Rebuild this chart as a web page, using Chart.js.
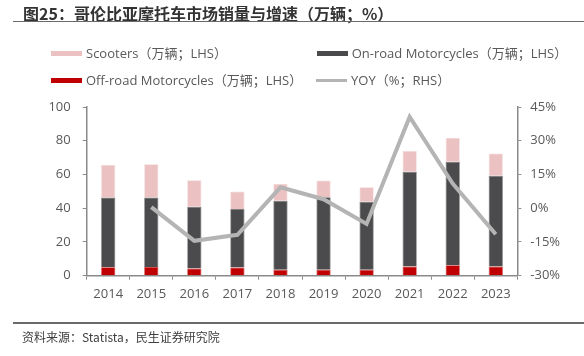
<!DOCTYPE html>
<html><head><meta charset="utf-8">
<script src="https://cdn.jsdelivr.net/npm/chart.js@4/dist/chart.umd.min.js"></script>
<style>
html,body{margin:0;padding:0;background:#fff;}
#wrap{position:relative;width:584px;height:356px;overflow:hidden;font-family:"Open Sans","Noto Sans CJK SC",sans-serif;}
#title{position:absolute;left:23px;top:1px;font-size:16px;font-weight:bold;color:#333;white-space:nowrap;font-family:"Noto Sans CJK SC","Open Sans",sans-serif;letter-spacing:0px;}
#tline{position:absolute;left:13px;top:21px;width:571px;height:0;border-top:1.5px solid #6a6a6a;}
#sline{position:absolute;left:13px;top:322px;width:571px;height:0;border-top:2px solid #6a6a6a;}
#source{position:absolute;left:22px;top:328px;font-size:12px;color:#404040;white-space:nowrap;font-family:"Noto Sans CJK SC","Open Sans",sans-serif;}
canvas{position:absolute;left:0;top:0;}
.lg{position:absolute;font-size:13px;color:#595959;white-space:nowrap;line-height:16px;}
.sw{position:absolute;}
</style></head>
<body><div id="wrap">
<canvas id="c" width="584" height="356"></canvas>
<div id="title">图25：哥伦比亚摩托车市场销量与增速（万辆；%）</div>
<div id="tline"></div>
<div id="legend"></div>
<div id="sline"></div>
<div id="source">资料来源：Statista，民生证券研究院</div>
</div>
<script>
const years = ['2014','2015','2016','2017','2018','2019','2020','2021','2022','2023'];
const offRoad = [5.0, 5.1, 4.2, 4.8, 3.6, 3.6, 3.6, 5.4, 6.2, 5.4];
const onRoad = [41.3, 41.2, 36.6, 34.8, 40.8, 42.9, 40.2, 56.2, 61.3, 53.8];
const scooters = [19.4, 19.8, 15.8, 10.3, 10.1, 9.9, 8.7, 12.3, 14.3, 13.2];
const yoy = [null, 0.5, -14.5, -11.8, 9.3, 4.0, -7.0, 40.6, 11.0, -11.6];
const leftTicks = [0, 20, 40, 60, 80, 100];
const rightTicks = [-30, -15, 0, 15, 30, 45];

const labels = {
  scooters: 'Scooters（万辆；LHS）',
  onRoad: 'On-road Motorcycles（万辆；LHS）',
  offRoad: 'Off-road Motorcycles（万辆；LHS）',
  yoy: 'YOY（%；RHS）'
};
const colors = {scooters:'#EBC1C2', onRoad:'#4B4B4D', offRoad:'#C00000', yoy:'#B4B4B4'};
const borders = {scooters:'#F3D9D9', onRoad:'#6F6F71', offRoad:'#CC3A3A'};

const axisColor = '#8a8a8a';
const tickFont = {family:'"Open Sans","Noto Sans CJK SC",sans-serif', size:13};

const chart = new Chart(document.getElementById('c'), {
  data: {
    labels: years,
    datasets: [
      {type:'line', label:labels.yoy, data:yoy, yAxisID:'y1', borderColor:colors.yoy, backgroundColor:colors.yoy, borderWidth:4, pointRadius:0, tension:0, order:0, spanGaps:false},
      {type:'bar', label:labels.offRoad, data:offRoad, yAxisID:'y', backgroundColor:colors.offRoad, borderColor:borders.offRoad, borderWidth:0.75, stack:'s', order:1, barPercentage:0.33, categoryPercentage:1},
      {type:'bar', label:labels.onRoad, data:onRoad, yAxisID:'y', backgroundColor:colors.onRoad, borderColor:borders.onRoad, borderWidth:0.75, stack:'s', order:1, barPercentage:0.33, categoryPercentage:1},
      {type:'bar', label:labels.scooters, data:scooters, yAxisID:'y', backgroundColor:colors.scooters, borderColor:borders.scooters, borderWidth:0.75, stack:'s', order:1, barPercentage:0.33, categoryPercentage:1}
    ]
  },
  options: {
    responsive:false, animation:false,
    layout:{padding:{left:0,right:0,top:107,bottom:0}},
    plugins:{legend:{display:false}, tooltip:{enabled:false}},
    scales:{
      x:{
        stacked:true,
        grid:{display:true, drawOnChartArea:false, drawTicks:true, tickLength:4, color:axisColor, offset:true},
        border:{display:true, color:axisColor, width:1.5},
        ticks:{color:'#595959', font:tickFont, padding:7, maxRotation:0},
        afterFit(s){ s.height = 356 - 275.7; }
      },
      y:{
        position:'left', stacked:true, min:0, max:100,
        afterBuildTicks(s){ s.ticks = leftTicks.map(v=>({value:v})); },
        grid:{display:true, drawOnChartArea:false, drawTicks:true, tickLength:4, color:axisColor},
        border:{display:true, color:axisColor, width:1.5},
        ticks:{color:'#595959', font:tickFont, padding:12},
        afterFit(s){ s.width = 86.7; }
      },
      y1:{
        position:'right', min:-30, max:45,
        afterBuildTicks(s){ s.ticks = rightTicks.map(v=>({value:v})); },
        grid:{display:true, drawOnChartArea:false, drawTicks:true, tickLength:4, color:axisColor},
        border:{display:true, color:axisColor, width:1.5},
        ticks:{color:'#595959', font:tickFont, padding:9, callback:v=>v+'%'},
        afterFit(s){ s.width = 584 - 517.3; }
      }
    }
  }
});

// HTML legend built from the chart's datasets
const legendLayout = [
  {key:'scooters', x:51, y:53.3, kind:'box'},
  {key:'onRoad', x:316.7, y:53.3, kind:'box'},
  {key:'offRoad', x:51, y:80.7, kind:'box'},
  {key:'yoy', x:316, y:80.7, kind:'line'}
];
const lg = document.getElementById('legend');
legendLayout.forEach(it=>{
  const ds = chart.data.datasets.find(d=>d.label===labels[it.key]);
  const sw = document.createElement('div');
  sw.className='sw';
  const color = ds.type==='line'? ds.borderColor : ds.backgroundColor;
  if(it.kind==='box'){
    sw.style.cssText=`left:${it.x}px;top:${it.y-2.5}px;width:31px;height:5px;background:${color};`;
  } else {
    sw.style.cssText=`left:${it.x}px;top:${it.y-1.5}px;width:31px;height:3px;background:${color};`;
  }
  lg.appendChild(sw);
  const t = document.createElement('div');
  t.className='lg';
  t.textContent = ds.label;
  t.style.left = (it.x+35)+'px';
  t.style.top = (it.y-8.5)+'px';
  lg.appendChild(t);
});
</script>
</body></html>
